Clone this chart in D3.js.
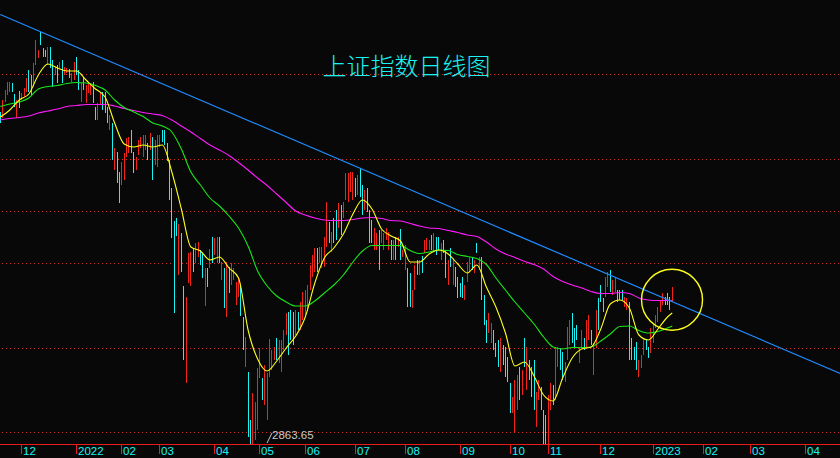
<!DOCTYPE html>
<html><head><meta charset="utf-8">
<script src="https://cdn.jsdelivr.net/npm/d3@7"></script>
<style>html,body{margin:0;padding:0;background:#080808;overflow:hidden}svg{display:block}</style>
</head><body><svg id="chart" width="840" height="458"></svg>
<script>
// ---- Data ----
const high = [3540,3564,3584,3600,3600,3598,3576,3564,3582,3578,
3588,3608,3624,3614,3638,3684,3664,3700,3668,3664,
3670,3670,3644,3630,3634,3640,3644,3630,3628,3626,
3618,3640,3650,3624,3598,3610,3594,3600,3594,3600,
3550,3558,3580,3580,3580,3550,3534,3518,3468,3460,
3420,3440,3458,3488,3490,3504,3460,3450,3484,3490,
3494,3494,3478,3498,3490,3484,3494,3494,3504,3504,
3478,3444,3388,3322,3328,3316,3298,3192,3170,3258,
3260,3268,3278,3280,3264,3258,3228,3228,3266,3290,
3288,3290,3290,3240,3228,3240,3230,3238,3228,3200,
3210,3194,3130,3090,3020,2924,2978,2960,3028,3068,
3008,3034,3018,3086,3064,3070,3088,3084,3084,3104,
3138,3140,3144,3140,3144,3140,3160,3180,3184,3194,
3234,3254,3268,3268,3270,3270,3290,3360,3320,3300,
3328,3344,3358,3354,3360,3418,3418,3420,3420,3408,
3414,3428,3394,3384,3388,3344,3324,3308,3298,3304,
3304,3298,3308,3300,3284,3284,3290,3290,3306,3264,
3274,3228,3218,3184,3234,3244,3244,3252,3284,3288,
3284,3294,3298,3290,3290,3278,3284,3264,3244,3268,
3248,3230,3210,3198,3210,3194,3240,3250,3250,3244,
3278,3250,3250,3174,3124,3138,3118,3104,3078,3084,
3088,3074,3070,3050,2998,2970,3004,3014,3030,3024,
3088,3070,3044,3030,3044,2980,3004,2990,2944,2934,
2974,2998,2994,3070,3070,3068,3060,3040,3110,3124,
3138,3108,3114,3070,3104,3088,3124,3134,3104,3078,
3144,3168,3194,3168,3210,3220,3224,3204,3210,3184,
3184,3184,3170,3168,3160,3088,3070,3080,3044,3054,
3084,3084,3070,3108,3118,3134,3150,3164,3178,3170,
3178,3170,3190];
const low = [3518,3528,3560,3574,3580,3580,3550,3528,3548,3564,
3570,3580,3580,3574,3590,3634,3648,3674,3650,3650,
3634,3628,3590,3614,3598,3628,3598,3614,3618,3608,
3600,3604,3614,3584,3560,3584,3558,3578,3574,3558,
3524,3524,3554,3544,3538,3518,3504,3444,3424,3398,
3358,3394,3404,3450,3458,3458,3418,3424,3454,3468,
3450,3464,3444,3464,3404,3434,3430,3470,3480,3474,
3442,3364,3288,3138,3292,3214,3220,3044,2998,3198,
3192,3220,3238,3250,3234,3208,3152,3190,3228,3238,
3254,3238,3238,3204,3148,3130,3178,3194,3204,3154,
3170,3132,3064,3030,2890,2872,2872,2884,2904,3008,
2964,2954,2924,3010,3024,3044,3044,3038,3020,3064,
3094,3054,3084,3074,3094,3104,3104,3124,3134,3144,
3184,3210,3220,3220,3238,3228,3230,3270,3278,3260,
3278,3284,3308,3294,3328,3364,3360,3380,3364,3370,
3374,3370,3334,3344,3340,3278,3278,3264,3264,3224,
3278,3264,3284,3264,3244,3244,3244,3270,3244,3250,
3224,3150,3150,3148,3184,3214,3214,3218,3258,3264,
3264,3264,3260,3254,3264,3244,3258,3208,3194,3230,
3194,3190,3168,3170,3168,3164,3200,3220,3224,3218,
3258,3224,3164,3114,3078,3098,3078,3064,3050,3030,
3020,3034,3010,3000,2938,2938,2898,2944,2964,2974,
3030,2984,3004,2970,2944,2910,2964,2944,2872,2872,
2872,2944,2954,2964,3030,3024,3004,3000,3044,3074,
3078,3068,3084,3038,3068,3064,3070,3084,3074,3014,
3068,3104,3160,3140,3170,3190,3180,3174,3180,3160,
3164,3164,3150,3144,3044,3044,3044,3024,3010,3028,
3054,3064,3048,3058,3078,3108,3120,3140,3154,3154,
3154,3144,3160];
const open = [3536,3536,3564,3580,3584,3594,3572,3534,3576,3566,
3572,3584,3616,3608,3596,3640,3650,3694,3664,3660,
3640,3664,3636,3616,3628,3630,3638,3616,3620,3622,
3604,3610,3644,3618,3566,3606,3564,3582,3578,3594,
3546,3528,3558,3574,3574,3546,3508,3510,3430,3452,
3412,3400,3410,3454,3462,3498,3454,3428,3458,3472,
3456,3468,3474,3468,3482,3440,3436,3474,3500,3498,
3474,3436,3378,3304,3322,3224,3290,3178,3016,3204,
3198,3262,3242,3254,3260,3252,3160,3224,3232,3284,
3258,3244,3284,3208,3220,3140,3224,3198,3208,3158,
3174,3186,3122,3036,3008,2918,2880,2890,2914,3014,
3002,2962,2934,3016,3028,3048,3082,3042,3026,3068,
3098,3130,3136,3132,3098,3136,3110,3130,3138,3150,
3190,3214,3224,3262,3242,3232,3236,3278,3314,3264,
3322,3336,3312,3346,3332,3370,3366,3384,3370,3404,
3378,3420,3386,3348,3382,3336,3318,3268,3268,3296,
3282,3268,3288,3268,3280,3248,3284,3272,3298,3252,
3230,3220,3210,3152,3188,3240,3218,3248,3262,3268,
3266,3290,3264,3286,3286,3248,3280,3258,3198,3264,
3200,3226,3206,3194,3206,3168,3204,3224,3246,3222,
3274,3228,3242,3168,3120,3102,3082,3100,3074,3078,
3026,3070,3064,3044,2992,2942,2908,2950,3024,2978,
3082,2992,3040,3024,3036,2916,2968,2986,2938,2928,
2880,2950,2990,2972,3034,3064,3054,3004,3050,3080,
3130,3104,3110,3042,3072,3084,3076,3090,3100,3020,
3076,3160,3190,3164,3174,3194,3218,3178,3184,3180,
3180,3182,3152,3148,3150,3082,3066,3074,3014,3032,
3058,3080,3066,3064,3082,3112,3124,3144,3158,3166,
3174,3166,3164];
const close = [3522,3556,3580,3594,3596,3584,3556,3558,3554,3576,
3584,3604,3588,3580,3630,3676,3660,3678,3654,3652,
3664,3634,3598,3628,3604,3638,3604,3626,3626,3612,
3614,3634,3620,3590,3590,3588,3588,3596,3590,3564,
3528,3552,3576,3550,3544,3522,3530,3452,3462,3406,
3366,3434,3450,3482,3486,3464,3424,3446,3480,3486,
3488,3490,3448,3492,3412,3478,3488,3490,3484,3480,
3446,3372,3298,3156,3298,3306,3228,3058,3160,3252,
3254,3226,3272,3276,3238,3214,3220,3194,3260,3244,
3284,3284,3244,3236,3156,3230,3184,3232,3224,3194,
3204,3138,3070,3084,2902,2878,2970,2952,3018,3060,
2970,3026,3010,3078,3058,3066,3048,3078,3076,3098,
3132,3062,3090,3080,3138,3108,3154,3174,3178,3188,
3228,3248,3262,3226,3266,3264,3284,3350,3284,3294,
3284,3290,3352,3300,3356,3412,3412,3416,3414,3374,
3408,3376,3340,3378,3346,3284,3284,3302,3294,3232,
3300,3294,3304,3296,3248,3280,3248,3288,3250,3262,
3268,3158,3156,3180,3228,3218,3240,3222,3280,3284,
3280,3268,3294,3258,3268,3274,3262,3214,3238,3234,
3242,3194,3172,3174,3172,3190,3236,3246,3228,3240,
3262,3246,3172,3120,3082,3134,3114,3068,3054,3036,
3080,3038,3016,3006,2944,2966,2996,3008,2970,3018,
3036,3062,3008,2976,2952,2974,3000,2948,2880,2878,
2966,2992,2958,3062,3066,3028,3010,3036,3104,3118,
3084,3072,3088,3066,3100,3068,3118,3128,3078,3070,
3136,3110,3164,3144,3206,3216,3186,3200,3206,3164,
3168,3166,3166,3164,3054,3050,3048,3030,3040,3050,
3080,3068,3052,3102,3114,3130,3146,3160,3174,3158,
3158,3148,3186];

// moving-average lines at these candle indices
const maIdx = [0,4,8,12,16,20,24,28,32,36,40,44,48,52,56,60,64,68,72,76,80,84,88,92,96,100,
104,108,112,116,120,124,128,132,136,140,144,148,152,156,160,164,168,172,176,180,184,188,192,196,
200,204,208,212,216,220,224,228,232,236,240,244,248,252,256,260,264,268,272,276,280,282];
const maYellow = [3530,3544,3564,3576,3614,3636,3628,3622,3622,3604,3586,3570,3518,3476,3470,3474,3470,3474,
3420,3346,3270,3262,3244,3250,3228,3208,3104,3046,3022,3042,3068,3092,3130,3198,3248,3268,3296,3336,
3364,3346,3306,3292,3282,3240,3240,3256,3264,3256,3236,3218,3234,3190,3150,3098,3032,3040,3012,2974,
2962,3008,3048,3066,3070,3106,3156,3164,3148,3094,3084,3106,3130,3138];
const maGreen = [3551,3556,3560,3568,3586,3591,3593,3597,3599,3598,3593,3584,3564,3549,3540,3531,3518,3512,
3500,3466,3420,3394,3368,3352,3332,3308,3272,3222,3192,3172,3160,3152,3152,3162,3178,3194,3214,3240,
3262,3273,3273,3273,3273,3263,3257,3260,3264,3263,3255,3251,3247,3235,3208,3184,3160,3138,3116,3090,
3070,3066,3069,3069,3070,3082,3096,3111,3112,3103,3098,3101,3108,3112];
const maMagenta = [3524,3527,3529,3532,3538,3542,3546,3551,3553,3555,3555,3555,3552,3547,3543,3539,3536,3533,
3524,3512,3500,3487,3474,3464,3453,3439,3424,3408,3393,3376,3359,3342,3334,3328,3324,3323,3323,3325,
3328,3329,3327,3323,3322,3317,3312,3308,3307,3303,3299,3294,3291,3280,3266,3256,3249,3241,3235,3226,
3211,3201,3194,3188,3181,3177,3177,3179,3177,3168,3164,3163,3163,3163];

// axis ticks (candle index of month start) and labels
const tickIdx = [9,32,51,67,90,109,128,149,170,193,214,230,252,274,295,315,338];
const tickLabels = ["12","2022","02","03","04","05","06","07","08","09","10","11","12","2023","02","03","04"];

// horizontal reference levels
const gridLevels = [3615,3445,3341,3237,3067,2899];

// annotations
const trendLine = [[0,3735],[353,3016]];
const circleCenter = [281.9,3164.6];
const lowLabel = "2863.65";
const title = "上证指数日线图";

// ---- Drawing ----
const W = 840, H = 458, axisY = 444;
const svg = d3.select("#chart");
const xS = d3.scaleLinear().domain([0,352]).range([0.25,839.07]);
const yS = d3.scaleLinear().domain([2876,3764]).range([axisY,0]);

const RED = "#f22418", CYAN = "#18f4f4", GRID = "#d0302a";

svg.append("rect").attr("width",W).attr("height",H).attr("fill","#080808");

svg.append("defs").append("clipPath").attr("id","plot")
  .append("rect").attr("x",0).attr("y",0).attr("width",W).attr("height",axisY);

// dotted levels
svg.append("g").selectAll("line").data(gridLevels).join("line")
  .attr("x1",0).attr("x2",W)
  .attr("y1",d=>yS(d)).attr("y2",d=>yS(d))
  .attr("stroke",GRID).attr("stroke-width",1)
  .attr("stroke-dasharray","1 3").attr("stroke-dashoffset",-2)
  .attr("shape-rendering","crispEdges");

const plot = svg.append("g").attr("clip-path","url(#plot)");

// candles
const idx = d3.range(high.length);
const cx = i => Math.floor(xS(i)) + 0.5;
const col = i => close[i] >= open[i] ? RED : CYAN;
const cg = plot.append("g").attr("shape-rendering","crispEdges");
cg.selectAll("line.wick").data(idx).join("line").attr("class","wick")
  .attr("x1",cx).attr("x2",cx)
  .attr("y1",i=>yS(high[i])).attr("y2",i=>yS(low[i]))
  .attr("stroke",col).attr("stroke-width",1);
cg.selectAll("rect.body").data(idx).join("rect").attr("class","body")
  .attr("x",i=>cx(i)-0.5).attr("width",1)
  .attr("y",i=>yS(Math.max(open[i],close[i])))
  .attr("height",i=>Math.max(1,Math.abs(yS(open[i])-yS(close[i]))))
  .attr("fill",col);

// moving averages
const line = d3.line().x(d=>xS(d[0])).y(d=>yS(d[1])).curve(d3.curveMonotoneX);
[[maMagenta,"#ff1cff"],[maGreen,"#18e818"],[maYellow,"#ffff1c"]].forEach(([vals,c])=>{
  plot.append("path").datum(maIdx.map((k,j)=>[k,vals[j]]))
    .attr("d",line).attr("fill","none").attr("stroke",c).attr("stroke-width",1.1);
});

// trend line
plot.append("line")
  .attr("x1",xS(trendLine[0][0])).attr("y1",yS(trendLine[0][1]))
  .attr("x2",xS(trendLine[1][0])).attr("y2",yS(trendLine[1][1]))
  .attr("stroke","#1e8cff").attr("stroke-width",1.2);

// highlight circle
svg.append("circle").attr("cx",xS(circleCenter[0])).attr("cy",yS(circleCenter[1]))
  .attr("r",30.5).attr("fill","none").attr("stroke","#ffff1c").attr("stroke-width",1.4);

// x axis
svg.append("line").attr("x1",0).attr("x2",W).attr("y1",axisY+0.5).attr("y2",axisY+0.5)
  .attr("stroke","#e81c1c").attr("stroke-width",1).attr("shape-rendering","crispEdges");
const tg = svg.append("g").selectAll("g").data(tickIdx).join("g")
  .attr("transform",d=>`translate(${cx(d)},0)`);
tg.append("line").attr("x1",0).attr("x2",0).attr("y1",axisY).attr("y2",axisY+10)
  .attr("stroke","#e81c1c").attr("stroke-width",1).attr("shape-rendering","crispEdges");
tg.append("text").attr("x",1.5).attr("y",455.3)
  .attr("fill",CYAN).attr("font-family","Liberation Sans, Arial, sans-serif").attr("font-size","11.5px")
  .text((d,j)=>tickLabels[j]);

// low label
svg.append("line").attr("x1",267).attr("y1",443).attr("x2",272).attr("y2",433)
  .attr("stroke","#c8c8c8").attr("stroke-width",1);
svg.append("text").attr("x",272).attr("y",439.4).attr("fill","#c8c8c8")
  .attr("font-family","Liberation Sans, Arial, sans-serif").attr("font-size","11.5px").text(lowLabel);

// title
svg.append("text").attr("x",322.5).attr("y",75).attr("fill",CYAN)
  .attr("font-family","Noto Sans CJK SC, sans-serif").attr("font-weight",300)
  .attr("font-size","24px").text(title);
</script></body></html>
